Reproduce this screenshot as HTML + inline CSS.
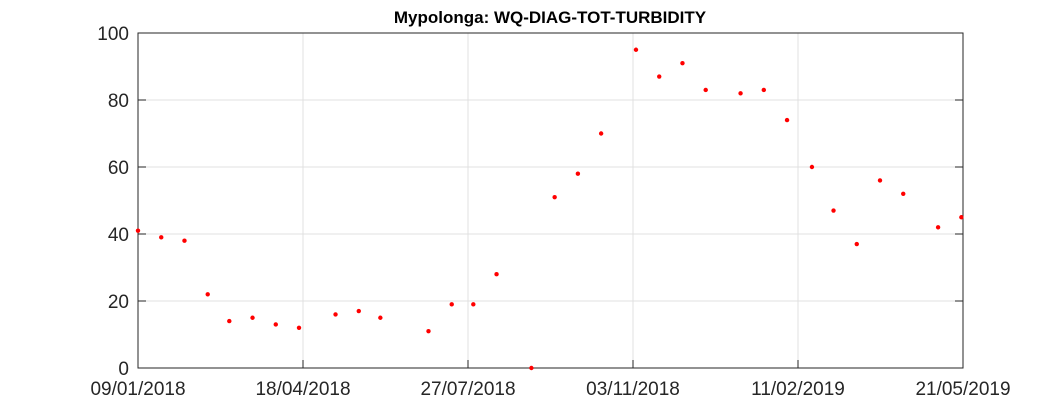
<!DOCTYPE html>
<html><head><meta charset="utf-8"><style>
body{margin:0;background:#fff;}
svg{display:block;font-family:"Liberation Sans",sans-serif;}
</style></head><body>
<svg id="chart" width="1063" height="413">
<rect width="1063" height="413" fill="#fff"/>
<text x="550" y="23" text-anchor="middle" font-size="17" font-weight="bold" fill="#000">Mypolonga: WQ-DIAG-TOT-TURBIDITY</text>
<g id="grid"></g>
<g id="axes"></g>
<g id="points"></g>
</svg>
<script>
const days = [0,14,28,42,55,69,83,97,119,133,146,175,189,202,216,237,251,265,279,300,314,328,342,363,377,391,406,419,433,447,461,482,496];
const values = [41,39,38,22,14,15,13,12,16,17,15,11,19,19,28,0,51,58,70,95,87,91,83,82,83,74,60,47,37,56,52,42,45];
const xTickLabels = ["09/01/2018","18/04/2018","27/07/2018","03/11/2018","11/02/2019","21/05/2019"];
const yTicks = [0,20,40,60,80,100];
const totalDays = 497;

const L=138,R=963,T=33,B=368;
const xs=d=>L+d/totalDays*(R-L);
const ys=v=>B-v/100*(B-T);
const ns="http://www.w3.org/2000/svg";
function mk(tag,attrs,parent){const e=document.createElementNS(ns,tag);for(const k in attrs)e.setAttribute(k,attrs[k]);parent.appendChild(e);return e;}
const grid=document.getElementById('grid'),axes=document.getElementById('axes'),pts=document.getElementById('points');
xTickLabels.forEach((lab,i)=>{
  const x=L+i*(R-L)/(xTickLabels.length-1);
  const g=mk('line',{x1:x,x2:x,y1:T,y2:B,stroke:'#e0e0e0','stroke-width':1},grid);
  
  
  const tk=mk('line',{x1:x,x2:x,y1:B,y2:B-8,stroke:'#262626'},axes);
  
  
  const t=mk('text',{x:x,y:395,'text-anchor':'middle','font-size':19,fill:'#262626'},axes);
  t.textContent=lab;
  
  
});
yTicks.forEach(v=>{
  const y=ys(v);
  const g=mk('line',{x1:L,x2:R,y1:y,y2:y,stroke:'#e0e0e0','stroke-width':1},grid);
  
  
  const tk=mk('line',{x1:L,x2:L+8,y1:y,y2:y,stroke:'#262626'},axes);
  
  
  const tk2=mk('line',{x1:R,x2:R-8,y1:y,y2:y,stroke:'#262626'},axes);
  
  
  const t=mk('text',{x:129,y:y+7,'text-anchor':'end','font-size':19,fill:'#262626'},axes);
  t.textContent=v;
  
  
});
const box=mk('rect',{x:L,y:T,width:R-L,height:B-T,fill:'none',stroke:'#262626','stroke-width':1},axes);


days.forEach((d,i)=>{
  const c=mk('circle',{cx:xs(d),cy:ys(values[i]),r:2.2,fill:'#ff0000'},pts);
  
  
});
</script>
</body></html>
